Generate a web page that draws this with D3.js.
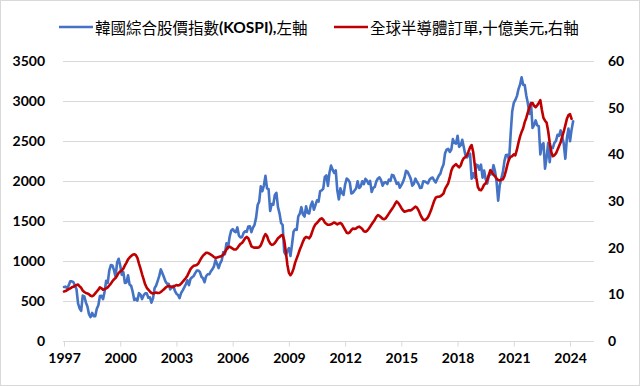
<!DOCTYPE html>
<html>
<head>
<meta charset="utf-8">
<script src="https://cdn.jsdelivr.net/npm/d3@7"></script>
<style>
  html, body { margin: 0; padding: 0; background: #fff; }
  svg { display: block; }
</style>
</head>
<body>
<svg id="chart" width="640" height="386"></svg>
<script>
// ---------- DATA ----------
const startYear = 1997;            // first month: Jan 1997, monthly series
const seriesNames = ["韓國綜合股價指數(KOSPI),左軸", "全球半導體訂單,十億美元,右軸"];
const xTickYears = [1997, 2000, 2003, 2006, 2009, 2012, 2015, 2018, 2021, 2024];
const leftTicks = [0, 500, 1000, 1500, 2000, 2500, 3000, 3500];
const rightTicks = [0, 10, 20, 30, 40, 50, 60];

// KOSPI month-end (Jan 1997 – Mar 2024)
const kospi = [
  675, 679, 658, 694, 746, 746, 735, 695, 647, 470, 407, 376,
  567, 558, 482, 431, 336, 298, 351, 311, 311, 403, 446, 562,
  566, 523, 618, 753, 726, 883, 950, 944, 886, 803, 981, 1028,
  943, 828, 860, 725, 731, 822, 705, 689, 614, 514, 529, 505,
  598, 579, 524, 572, 596, 595, 541, 546, 479, 535, 660, 694,
  752, 814, 895, 846, 797, 743, 716, 716, 646, 669, 688, 628,
  592, 576, 535, 600, 633, 670, 710, 759, 698, 776, 797, 810,
  849, 880, 880, 863, 803, 785, 735, 810, 835, 834, 870, 896,
  932, 1012, 966, 912, 970, 1008, 1112, 1084, 1221, 1158, 1297, 1379,
  1399, 1371, 1360, 1420, 1318, 1295, 1298, 1352, 1372, 1365, 1432, 1434,
  1361, 1418, 1453, 1542, 1700, 1744, 1933, 1873, 1946, 2065, 1907, 1897,
  1625, 1712, 1704, 1825, 1852, 1674, 1595, 1475, 1449, 1113, 1076, 1124,
  1162, 1063, 1206, 1369, 1396, 1390, 1557, 1592, 1673, 1581, 1556, 1683,
  1602, 1594, 1693, 1742, 1641, 1699, 1759, 1743, 1873, 1883, 1905, 2051,
  2069, 1939, 2107, 2192, 2142, 2101, 2133, 1880, 1770, 1909, 1848, 1826,
  1956, 2030, 2014, 1982, 1843, 1854, 1881, 1906, 1996, 1912, 1933, 1997,
  1962, 2027, 2005, 1964, 2002, 1863, 1915, 1926, 1997, 2031, 2045, 2011,
  1941, 1980, 1986, 1962, 2017, 2002, 2076, 2068, 2020, 1964, 1981, 1916,
  1949, 1986, 2041, 2127, 2115, 2074, 2030, 1941, 1963, 2029, 1991, 1961,
  1912, 1917, 1996, 1994, 1983, 1970, 2016, 2035, 2044, 2008, 1983, 2026,
  2067, 2092, 2160, 2205, 2347, 2392, 2403, 2363, 2394, 2523, 2476, 2467,
  2566, 2427, 2446, 2515, 2423, 2326, 2295, 2323, 2343, 2030, 2097, 2041,
  2205, 2195, 2141, 2204, 2042, 2131, 2025, 1968, 2063, 2083, 2088, 2198,
  2119, 1987, 1755, 1947, 2030, 2108, 2249, 2326, 2328, 2267, 2591, 2873,
  2976, 3013, 3061, 3148, 3204, 3297, 3202, 3200, 3069, 2971, 2839, 2978,
  2663, 2699, 2758, 2695, 2686, 2333, 2452, 2473, 2155, 2293, 2473, 2236,
  2425, 2413, 2477, 2501, 2577, 2564, 2632, 2556, 2465, 2278, 2535, 2655,
  2497, 2642, 2747
];

// Global semiconductor sales, 3-month average, US$ bn (Jan 1997 – Feb 2024)
const semiSales = [
  10.6, 10.7, 10.9, 11.1, 11.3, 11.5, 11.6, 11.8, 12.0, 12.1, 11.7, 11.4,
  10.8, 10.5, 10.3, 10.2, 10.0, 9.7, 9.6, 9.8, 10.2, 10.6, 11.0, 11.5,
  11.3, 11.0, 11.1, 11.3, 11.5, 11.9, 12.3, 12.8, 13.2, 13.5, 14.0, 14.6,
  14.9, 15.1, 15.5, 16.2, 16.8, 17.5, 17.9, 18.2, 18.5, 18.6, 18.4, 17.8,
  16.6, 15.5, 14.3, 13.2, 12.1, 11.4, 11.0, 10.6, 10.3, 10.2, 10.3, 10.4,
  10.3, 10.3, 10.5, 10.8, 11.1, 11.4, 11.7, 11.8, 11.7, 11.6, 11.6, 11.8,
  12.0, 11.9, 12.0, 12.3, 12.7, 13.1, 13.5, 14.0, 14.7, 15.4, 15.8, 16.1,
  16.2, 16.3, 16.6, 17.2, 17.8, 18.3, 18.6, 18.9, 18.9, 18.7, 18.5, 18.3,
  18.0, 17.8, 17.9, 18.0, 18.1, 18.2, 18.5, 19.0, 19.6, 20.1, 20.2, 20.0,
  19.8, 19.6, 19.6, 19.9, 20.4, 20.8, 21.0, 21.5, 22.0, 22.3, 22.0, 21.2,
  20.3, 20.1, 20.0, 20.0, 20.0, 20.1, 20.5, 21.3, 22.3, 22.9, 22.5, 21.5,
  20.9, 20.6, 20.7, 21.0, 21.5, 22.0, 22.3, 22.6, 22.7, 21.6, 19.2, 16.4,
  14.6, 14.1, 14.6, 15.5, 16.8, 17.7, 18.6, 19.6, 20.4, 21.3, 22.0, 22.3,
  22.2, 22.0, 22.5, 23.5, 24.4, 25.0, 25.3, 25.7, 26.1, 26.3, 26.0, 25.4,
  25.1, 24.9, 24.9, 25.0, 25.2, 25.4, 25.2, 25.0, 25.2, 25.3, 25.0, 24.4,
  23.8, 23.2, 23.1, 23.3, 23.8, 24.1, 24.0, 24.1, 24.4, 24.5, 24.3, 24.0,
  23.5, 23.4, 23.6, 24.0, 24.5, 25.0, 25.5, 26.0, 26.6, 27.0, 26.8, 26.5,
  26.2, 26.1, 26.3, 26.8, 27.3, 27.8, 28.3, 28.8, 29.4, 29.9, 29.6, 29.1,
  28.5, 28.0, 27.7, 27.8, 27.9, 28.0, 28.0, 28.2, 28.5, 28.8, 28.6, 28.0,
  27.2, 26.5, 26.0, 25.9, 26.1, 26.5, 27.2, 28.0, 29.0, 30.0, 30.7, 30.9,
  30.9, 31.0, 31.3, 31.6, 32.6, 33.2, 33.8, 35.0, 36.5, 37.3, 37.6, 37.9,
  37.5, 37.2, 37.6, 38.6, 39.2, 39.4, 39.8, 40.6, 41.5, 42.0, 40.5, 37.8,
  35.0, 33.0, 32.4, 32.3, 32.8, 33.5, 33.8, 34.5, 35.6, 36.6, 36.2, 35.6,
  35.3, 34.8, 34.5, 34.4, 34.6, 34.6, 35.3, 36.5, 37.9, 39.0, 39.5, 39.6,
  40.0, 39.8, 41.0, 42.5, 43.8, 44.8, 45.6, 46.9, 47.8, 49.0, 50.0, 50.9,
  51.0, 50.4, 50.1, 50.5, 51.0, 51.6, 49.5, 47.8, 47.2, 46.8, 45.0, 42.5,
  40.5, 39.6, 39.8, 40.2, 41.0, 41.8, 42.6, 43.8, 44.9, 46.2, 47.6, 48.4,
  48.6, 47.6
];

// ---------- CHART ----------
const W = 640, H = 386;
const plot = { left: 64, right: 594, top: 61, bottom: 341 };
const svg = d3.select("#chart");

// outer border
svg.append("rect")
  .attr("x", 0.5).attr("y", 0.5).attr("width", W - 1).attr("height", H - 1)
  .attr("fill", "#fff").attr("stroke", "#d9d9d9").attr("stroke-width", 1);

const x = d3.scaleLinear().domain([startYear, 2025.28]).range([plot.left, plot.right]);
const yL = d3.scaleLinear().domain([0, 3500]).range([plot.bottom, plot.top]);
const yR = d3.scaleLinear().domain([0, 60]).range([plot.bottom, plot.top]);

const tickFont = "Lato, 'Liberation Sans', sans-serif";
const fmt = d3.format("d");

// gridlines
svg.append("g")
  .selectAll("line").data(leftTicks.filter(d => d > 0)).join("line")
  .attr("x1", plot.left - 1).attr("x2", plot.right)
  .attr("y1", d => Math.round(yL(d)) + 0.5).attr("y2", d => Math.round(yL(d)) + 0.5)
  .attr("stroke", "#d9d9d9").attr("stroke-width", 1);

// x axis
const xAxis = d3.axisBottom(x)
  .tickValues(xTickYears)
  .tickFormat(fmt)
  .tickSizeInner(5).tickSizeOuter(0).tickPadding(7);
const gx = svg.append("g")
  .attr("transform", `translate(0,${plot.bottom + 0.5})`)
  .call(xAxis);
gx.select(".domain").attr("stroke", "#d9d9d9").attr("d", `M${plot.left - 1},0H${plot.right}`);
gx.selectAll(".tick line").attr("stroke", "#d9d9d9");
gx.selectAll("text")
  .attr("font-family", tickFont).attr("font-weight", "bold")
  .attr("font-size", 14).attr("fill", "#000");

// left axis
const gl = svg.append("g")
  .attr("transform", `translate(${plot.left},0)`)
  .call(d3.axisLeft(yL).tickValues(leftTicks).tickFormat(fmt).tickSize(0).tickPadding(19));
gl.select(".domain").remove();
gl.selectAll("text")
  .attr("font-family", tickFont).attr("font-weight", "bold")
  .attr("font-size", 14).attr("fill", "#000");

// right axis
const gr = svg.append("g")
  .attr("transform", `translate(${plot.right},0)`)
  .call(d3.axisRight(yR).tickValues(rightTicks).tickFormat(fmt).tickSize(0).tickPadding(14));
gr.select(".domain").remove();
gr.selectAll("text")
  .attr("font-family", tickFont).attr("font-weight", "bold")
  .attr("font-size", 14).attr("fill", "#000");

// lines
const tOf = i => startYear + i / 12;
const lineL = d3.line().x((d, i) => x(tOf(i))).y(d => yL(d));
const lineR = d3.line().x((d, i) => x(tOf(i))).y(d => yR(d));

svg.append("path").datum(kospi)
  .attr("d", lineL).attr("fill", "none")
  .attr("stroke", "#4472C4").attr("stroke-width", 2.6)
  .attr("stroke-linejoin", "round").attr("stroke-linecap", "round");

svg.append("path").datum(semiSales)
  .attr("d", lineR).attr("fill", "none")
  .attr("stroke", "#C00000").attr("stroke-width", 2.6)
  .attr("stroke-linejoin", "round").attr("stroke-linecap", "round");

// legend
const legend = [
  { name: seriesNames[0], color: "#4472C4", x0: 59, x1: 93, tx: 95 },
  { name: seriesNames[1], color: "#C00000", x0: 334, x1: 368, tx: 370 }
];
const legY = 27;
const lg = svg.append("g");
legend.forEach(l => {
  lg.append("line").attr("x1", l.x0).attr("x2", l.x1)
    .attr("y1", legY).attr("y2", legY)
    .attr("stroke", l.color).attr("stroke-width", 2.6);
  const t = lg.append("text").attr("x", l.tx).attr("y", legY)
    .attr("dominant-baseline", "central")
    .attr("font-size", 15.5).attr("fill", "#000");
  // split CJK / Latin runs so Latin parts are bold
  const parts = l.name.match(/[\u3000-\u9fff\uff00-\uffef]+|[^\u3000-\u9fff\uff00-\uffef]+/g);
  parts.forEach(p => {
    const isCJK = /[\u3000-\u9fff]/.test(p);
    t.append("tspan").text(p)
      .attr("font-family", isCJK ? "'Noto Sans CJK TC', sans-serif" : "Lato, sans-serif")
      .attr("font-weight", isCJK ? "normal" : "bold");
  });
});
</script>
</body>
</html>
